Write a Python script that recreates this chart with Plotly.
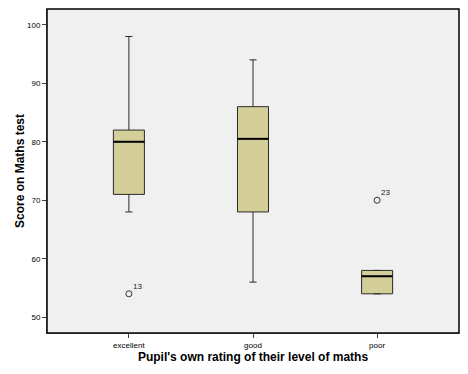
import plotly.graph_objects as go

categories = ["excellent", "good", "poor"]
lower_whisker = [68, 56, 54]
q1 = [71, 68, 54]
median = [80, 80.5, 57]
q3 = [82, 86, 58]
upper_whisker = [98, 94, 58]
outlier_cat = ["excellent", "poor"]
outlier_val = [54, 70]
outlier_id = ["13", "23"]
y_ticks = [50, 60, 70, 80, 90, 100]

fig = go.Figure()
fig.add_trace(go.Box(
    x=categories, q1=q1, median=median, q3=q3,
    lowerfence=lower_whisker, upperfence=upper_whisker,
    fillcolor="#d4cf98", line=dict(color="#2a2a2a", width=1),
    width=0.25, whiskerwidth=0.23, boxpoints=False, showlegend=False,
))
fig.add_trace(go.Scatter(
    x=outlier_cat, y=outlier_val, mode="markers",
    marker=dict(symbol="circle-open", size=6, color="#333333", line=dict(width=1)),
    showlegend=False,
))
idx = {c: i for i, c in enumerate(categories)}
for c, v, t in zip(outlier_cat, outlier_val, outlier_id):
    fig.add_annotation(x=idx[c], y=v, text=t, showarrow=False, xref="x", yref="y",
                       xanchor="left", yanchor="bottom", xshift=2, yshift=1,
                       font=dict(size=8, color="#222222"))
# thick black median lines derived from data
for c, m in zip(categories, median):
    i = idx[c]
    fig.add_shape(type="line", xref="x", yref="y", x0=i - 0.125, x1=i + 0.125,
                  y0=m, y1=m, line=dict(color="black", width=2))

fig.add_shape(type="rect", xref="paper", yref="paper", x0=0, x1=1, y0=0, y1=1,
              line=dict(color="black", width=1.5), layer="above")

# y-axis title as annotation for precise placement
fig.add_annotation(text="<b>Score on Maths test</b>", xref="paper", yref="paper",
                   x=0, y=0.5, xanchor="center", yanchor="middle", xshift=-27,
                   textangle=-90, showarrow=False,
                   font=dict(size=12, color="black"))

fig.update_layout(
    width=468, height=374,
    margin=dict(l=47, r=9, t=9, b=41),
    paper_bgcolor="white", plot_bgcolor="#f0f0f0",
    font=dict(family="Liberation Sans, Arial", color="black"),
)
fig.update_xaxes(
    type="category", categoryorder="array", categoryarray=categories,
    range=[-0.66, 2.66], showgrid=False, zeroline=False, automargin=False,
    showline=True, linecolor="#808080", linewidth=1,
    ticks="outside", ticklen=4, tickcolor="#404040",
    tickfont=dict(size=8),
    title=dict(text="<b>Pupil's own rating of their level of maths</b>",
               font=dict(size=12), standoff=4),
)
fig.update_yaxes(
    range=[47.3, 102.7], tickvals=y_ticks, showgrid=False, zeroline=False,
    automargin=False,
    showline=True, linecolor="#808080", linewidth=1,
    ticks="outside", ticklen=4, tickcolor="#404040",
    tickfont=dict(size=8),
)
fig.write_html("out.html", config={"displayModeBar": False},
               post_script="document.body.style.margin='0';document.body.style.padding='0';")
